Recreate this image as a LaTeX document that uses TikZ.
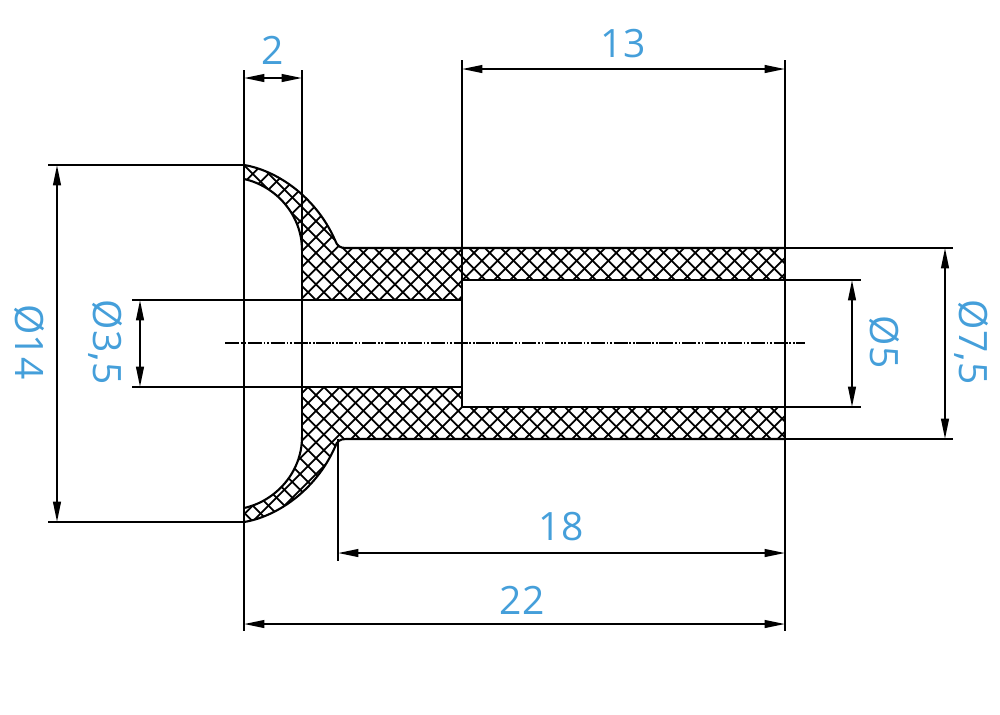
\documentclass[tikz,border=0pt]{standalone}
\usepackage{fontspec}
\setmainfont{Open Sans}
\usetikzlibrary{arrows.meta}
\definecolor{dimblue}{HTML}{459FDA}
\tikzset{
  extline/.style={black,line width=0.55pt},
  dimline/.style={black,line width=0.55pt,{Triangle[length=5.8pt,width=2.2pt]}-{Triangle[length=5.8pt,width=2.2pt]}},
  outline/.style={black,line width=0.6pt},
  hatchline/.style={black,line width=0.5pt},
  centerline/.style={black,line width=0.3pt,dash pattern=on 4pt off 0.5pt on 0.5pt off 0.5pt on 0.5pt off 0.5pt},
  dimlabel/.style={text=dimblue,font=\fontsize{11.1}{14}\selectfont,inner sep=0pt},
}
\begin{document}
\begin{tikzpicture}[x=0.01cm,y=-0.01cm]
    \useasboundingbox (0,0) rectangle (1000,714);
    % hatched section
    \begin{scope}
      \clip (244,165) .. controls (275,170) and (315,195) .. (335,240) .. controls (337,246) and (340,248) .. (346,248)
        -- (785,248) -- (785,280) -- (462,280) -- (462,300) -- (302,300) -- (302,250)
        .. controls (302,215) and (276,186) .. (244,179) -- cycle;
      \foreach \i in {-10,...,90} {
        \draw[hatchline] (\i*15.8,0) -- ++(714,714);
        \draw[hatchline] (\i*15.8,0) -- ++(-714,714);
      }
    \end{scope}
    \begin{scope}
      \clip (244,522) .. controls (275,517) and (315,492) .. (335,447) .. controls (337,441) and (340,439) .. (346,439)
        -- (785,439) -- (785,407) -- (462,407) -- (462,387) -- (302,387) -- (302,437)
        .. controls (302,472) and (276,501) .. (244,508) -- cycle;
      \foreach \i in {-40,...,90} {
        \draw[hatchline] (\i*15.8,0) -- ++(714,714);
        \draw[hatchline] (\i*15.8,0) -- ++(-714,714);
      }
    \end{scope}
    % outlines
    \draw[outline] (244,165) .. controls (275,170) and (315,195) .. (335,240) .. controls (337,246) and (340,248) .. (346,248) -- (785,248);
    \draw[outline] (244,179) .. controls (276,186) and (302,215) .. (302,250);
    \draw[outline] (462,280) -- (785,280);
    \draw[outline] (244,522) .. controls (275,517) and (315,492) .. (335,447) .. controls (337,441) and (340,439) .. (346,439) -- (785,439);
    \draw[outline] (244,508) .. controls (276,501) and (302,472) .. (302,437);
    \draw[outline] (462,407) -- (785,407);
    % extension lines
    \draw[extline] (244,70) -- (244,631);
    \draw[extline] (302,70) -- (302,437);
    \draw[extline] (462,60) -- (462,407);
    \draw[extline] (785,60) -- (785,631);
    \draw[extline] (338,439) -- (338,561);
    \draw[extline] (48,165) -- (244,165);
    \draw[extline] (48,522) -- (244,522);
    \draw[extline] (132,300) -- (462,300);
    \draw[extline] (132,387) -- (462,387);
    \draw[extline] (785,248) -- (953,248);
    \draw[extline] (785,439) -- (953,439);
    \draw[extline] (785,280) -- (861,280);
    \draw[extline] (785,407) -- (861,407);
    \draw[centerline] (225,343) -- (805,343);
    % dimensions
    \draw[dimline] (244,78) -- (302,78);
    \draw[dimline] (462,69) -- (785,69);
    \draw[dimline] (338,553) -- (785,553);
    \draw[dimline] (244,624) -- (785,624);
    \draw[dimline] (57,165) -- (57,522);
    \draw[dimline] (140,300) -- (140,387);
    \draw[dimline] (852,280) -- (852,407);
    \draw[dimline] (945,248) -- (945,439);
    % labels
    \node[dimlabel] (lab2) at (273,50) {2};
    \node[dimlabel] (lab13) at (623,44) {13};
    \node[dimlabel] (lab18) at (561,527) {18};
    \node[dimlabel] (lab22) at (522,600) {22};
    \node[dimlabel,rotate=-90] (lab14) at (29,342) {Ø14};
    \node[dimlabel,rotate=-90] (lab35) at (106,342) {Ø3,5};
    \node[dimlabel,rotate=-90] (lab5) at (884,342) {Ø5};
    \node[dimlabel,rotate=-90] (lab75) at (972,342) {Ø7,5};
\end{tikzpicture}
\end{document}
